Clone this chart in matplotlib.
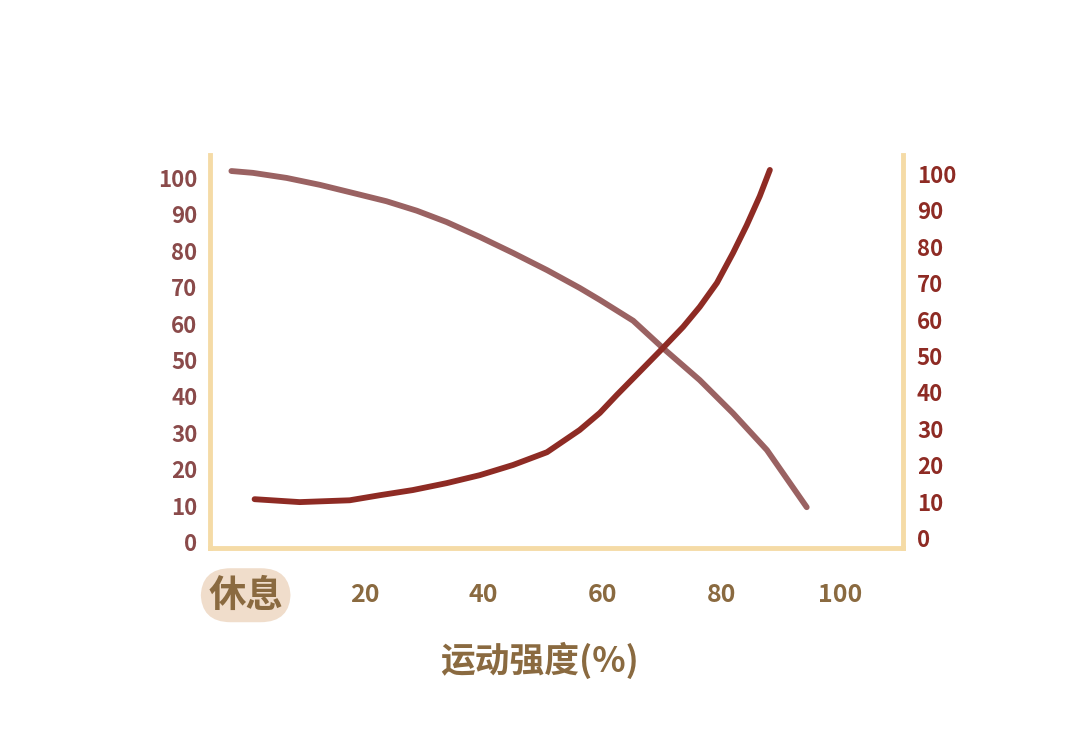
import matplotlib
matplotlib.use("Agg")
import matplotlib.pyplot as plt

plt.rcParams['font.family'] = ['Noto Sans CJK SC', 'DejaVu Sans']

# Data
y_ticks = [0, 10, 20, 30, 40, 50, 60, 70, 80, 90, 100]
x_ticks = [0, 20, 40, 60, 80, 100]
x_ticklabels = ['休息', '20', '40', '60', '80', '100']
xlabel = '运动强度(%)'

mauve_x = [-2.4, 1.2, 6.9, 12.5, 18.0, 23.7, 28.8, 33.8, 39.4, 45.0, 50.7,
           56.2, 59.6, 65.2, 70.2, 76.4, 82.0, 87.7, 94.4]
mauve_y = [101.9, 101.4, 100.0, 98.1, 95.9, 93.6, 91.0, 87.9, 83.8, 79.4, 74.7,
           69.8, 66.5, 60.8, 53.3, 44.5, 35.4, 25.3, 9.6]

red_x = [1.5, 9.1, 17.5, 22.6, 28.1, 33.8, 39.4, 45.0, 50.7, 56.2, 59.6,
         62.5, 66.3, 70.2, 73.6, 76.4, 79.3, 82.0, 84.3, 86.5, 88.2]
red_y = [11.8, 11.0, 11.5, 12.9, 14.3, 16.2, 18.4, 21.2, 24.7, 30.8, 35.5,
         40.5, 46.8, 53.3, 59.1, 64.6, 71.2, 79.4, 87.0, 95.0, 102.2]

MAUVE = '#9a6262'
RED = '#8e2b24'
SPINE = '#f5dba6'
LEFT_LBL = '#8a4a4a'
RIGHT_LBL = '#8e2b24'
BROWN = '#8a6a40'

fig = plt.figure(figsize=(10.8, 7.41), dpi=100)
ax = fig.add_axes([210/1080, 1-548/741, (903-210)/1080, (548-155)/741])

ax.plot(mauve_x, mauve_y, color=MAUVE, lw=4.2, solid_capstyle='round', solid_joinstyle='round')
ax.plot(red_x, red_y, color=RED, lw=4.2, solid_capstyle='round', solid_joinstyle='round')

ax.set_xlim(-6, 110.6)
ax.set_ylim(-1.6, 106.3)

for s in ['left', 'right', 'bottom']:
    ax.spines[s].set_color(SPINE)
    ax.spines[s].set_linewidth(3.5)
ax.spines['top'].set_visible(False)

ax.set_yticks(y_ticks)
ax.set_yticklabels([str(v) for v in y_ticks])
ax.tick_params(axis='y', length=0, pad=9, labelcolor=LEFT_LBL, labelsize=16)
for t in ax.get_yticklabels():
    t.set_fontweight('bold')

ax.set_xticks(x_ticks)
ax.set_xticklabels(x_ticklabels)
ax.tick_params(axis='x', length=0, pad=34, labelcolor=BROWN, labelsize=18)
for i, t in enumerate(ax.get_xticklabels()):
    t.set_verticalalignment('center')
    t.set_fontweight('bold')
    if i == 0:
        t.set_fontsize(27)
        t.set_bbox(dict(boxstyle='round,pad=0.2,rounding_size=0.8', fc='#f0ddcb', ec='none'))

ax2 = ax.twinx()
ax2.set_ylim(-2.7, 105.2)
ax2.set_yticks(y_ticks)
ax2.set_yticklabels([str(v) for v in y_ticks])
ax2.tick_params(axis='y', length=0, pad=10, labelcolor=RIGHT_LBL, labelsize=16)
for t in ax2.get_yticklabels():
    t.set_fontweight('bold')
for s in ax2.spines.values():
    s.set_visible(False)

fig.text(540/1080, 1-660/741, xlabel, ha='center', va='center', color=BROWN,
         fontsize=25, fontweight='bold')

fig.savefig('out.png', dpi=100, facecolor='white')
